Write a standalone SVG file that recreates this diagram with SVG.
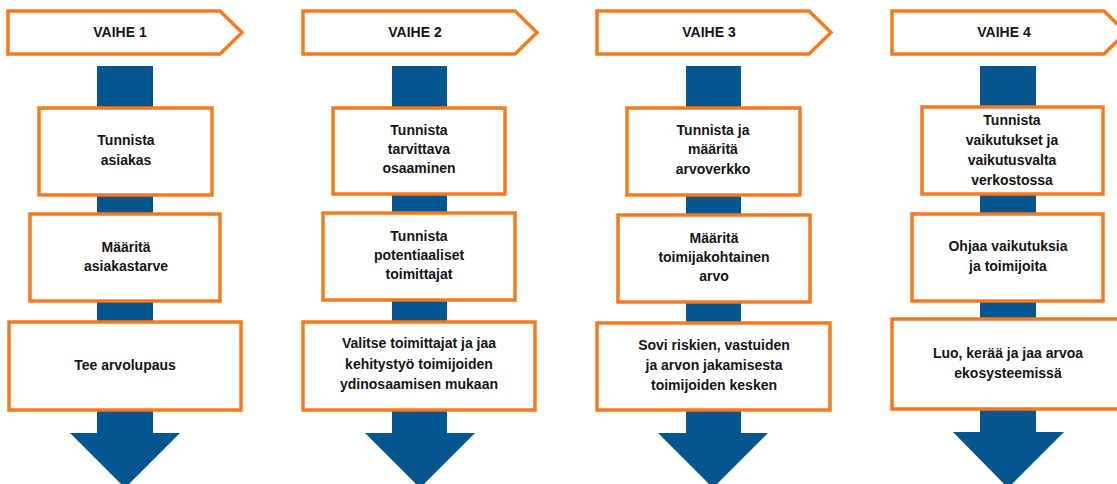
<svg xmlns="http://www.w3.org/2000/svg" width="1117" height="484" viewBox="0 0 1117 484">
<defs>
<style>
.box{fill:#fff;stroke:#F47A1F;stroke-width:3.5}
.hdr{fill:#fff;stroke:#F47A1F;stroke-width:3.5;stroke-linejoin:miter}
.flow{fill:#05568F}
text{font-family:"Liberation Sans",Arial,sans-serif;font-weight:bold;font-size:14px;fill:#151515;text-anchor:middle}
</style>
</defs>
<rect width="1117" height="484" fill="#fff"/>
<g id="connectors">
<path class="flow" d="M97,66H153V433H180L125,488L70,433H97Z"/>
<path class="flow" d="M392,66H447V433H475L420,488L365,433H392Z"/>
<path class="flow" d="M686,66H741V433H768L713,488L658,433H686Z"/>
<path class="flow" d="M980,66H1036V432H1064L1008,488L953,432H980Z"/>
</g>
<g id="vaihe1"><path class="hdr" d="M8,11H220L242,32.5L220,54H8Z"/><text x="120" y="37">VAIHE 1</text></g>
<g id="vaihe2"><path class="hdr" d="M303,11H515L537,32.5L515,54H303Z"/><text x="415" y="37">VAIHE 2</text></g>
<g id="vaihe3"><path class="hdr" d="M597,11H809L831,32.5L809,54H597Z"/><text x="709" y="37">VAIHE 3</text></g>
<g id="vaihe4"><path class="hdr" d="M892,11H1104L1126,32.5L1104,54H892Z"/><text x="1004" y="37">VAIHE 4</text></g>

<g id="c1b1"><rect class="box" x="39" y="108" width="173" height="87"/><text x="126" y="145">Tunnista</text><text x="126" y="165">asiakas</text></g>
<g id="c1b2"><rect class="box" x="30" y="214" width="190" height="87"/><text x="126" y="252">Määritä</text><text x="126" y="271">asiakastarve</text></g>
<g id="c1b3"><rect class="box" x="9" y="322" width="232" height="88"/><text x="125" y="370">Tee arvolupaus</text></g>

<g id="c2b1"><rect class="box" x="333" y="108" width="172" height="86"/><text x="419" y="135">Tunnista</text><text x="419" y="154">tarvittava</text><text x="419" y="173">osaaminen</text></g>
<g id="c2b2"><rect class="box" x="323" y="213" width="192" height="87"/><text x="419" y="241">Tunnista</text><text x="419" y="260">potentiaaliset</text><text x="419" y="279">toimittajat</text></g>
<g id="c2b3"><rect class="box" x="303" y="322" width="232" height="88"/><text x="419" y="348">Valitse toimittajat ja jaa</text><text x="419" y="369">kehitystyö toimijoiden</text><text x="419" y="389">ydinosaamisen mukaan</text></g>

<g id="c3b1"><rect class="box" x="627" y="108" width="173" height="87"/><text x="713" y="135">Tunnista ja</text><text x="713" y="154">määritä</text><text x="713" y="174">arvoverkko</text></g>
<g id="c3b2"><rect class="box" x="618" y="215" width="192" height="87"/><text x="714" y="243">Määritä</text><text x="714" y="262">toimijakohtainen</text><text x="714" y="281">arvo</text></g>
<g id="c3b3"><rect class="box" x="597" y="323" width="233" height="87"/><text x="714" y="350">Sovi riskien, vastuiden</text><text x="714" y="370">ja arvon jakamisesta</text><text x="714" y="390">toimijoiden kesken</text></g>

<g id="c4b1"><rect class="box" x="922" y="107" width="181" height="87"/><text x="1012" y="125">Tunnista</text><text x="1012" y="145">vaikutukset ja</text><text x="1012" y="165">vaikutusvalta</text><text x="1012" y="185">verkostossa</text></g>
<g id="c4b2"><rect class="box" x="912" y="214" width="191" height="87"/><text x="1008" y="251">Ohjaa vaikutuksia</text><text x="1008" y="271">ja toimijoita</text></g>
<g id="c4b3"><rect class="box" x="892" y="319" width="232" height="90"/><text x="1008" y="358">Luo, kerää ja jaa arvoa</text><text x="1008" y="378">ekosysteemissä</text></g>
</svg>
